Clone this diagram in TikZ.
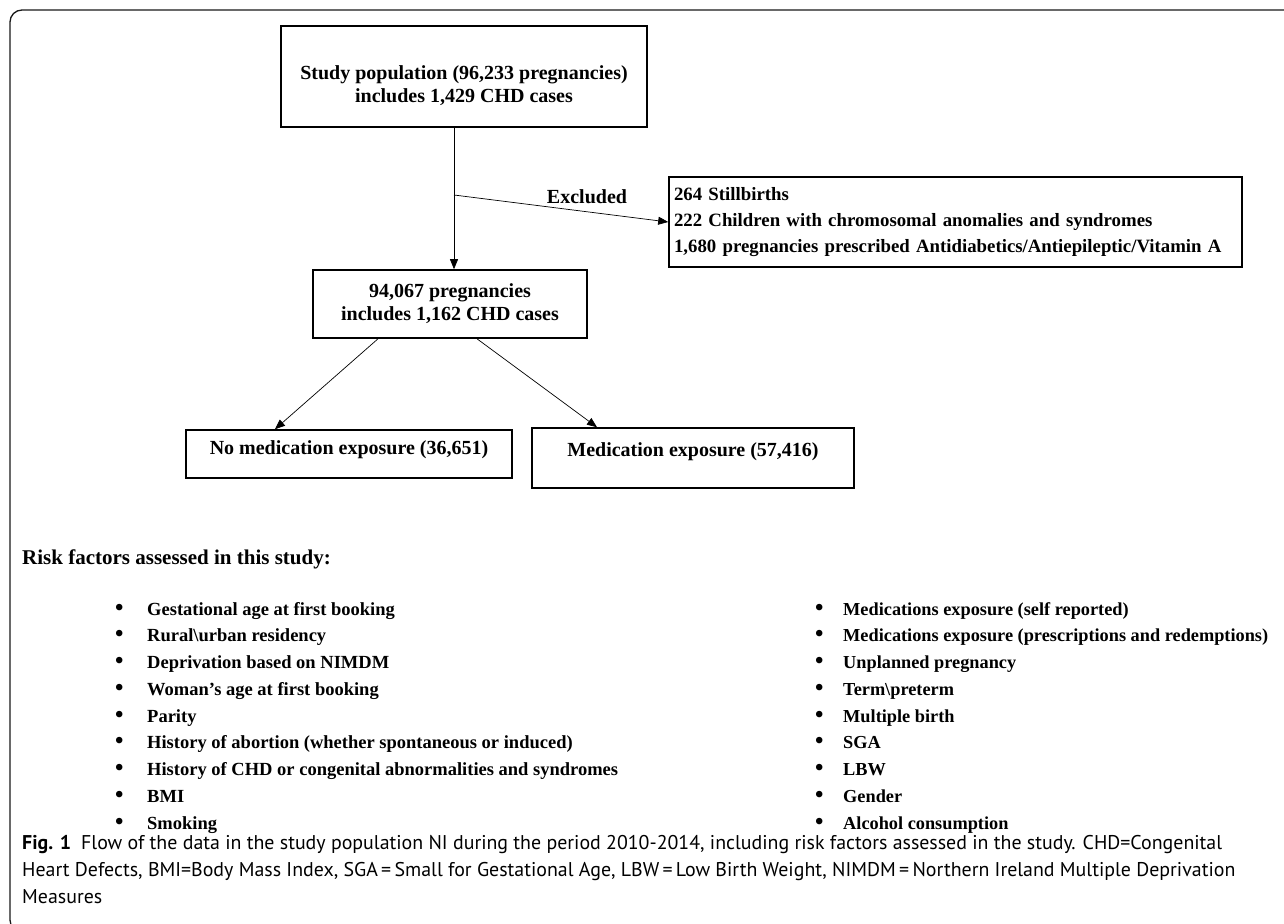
\documentclass[tikz,border=0pt]{standalone}
\usepackage{fontspec}
\setmainfont{Liberation Serif}
\newfontfamily\capfont{PT Sans}
\usetikzlibrary{arrows.meta}
\begin{document}
\begin{tikzpicture}[x=1pt,y=-1pt,
  box/.style={draw=black,line width=1.6pt,inner sep=0pt,align=center,
    font=\fontsize{20}{23}\selectfont\bfseries},
  arr/.style={-{Triangle[length=10pt,width=8pt]},line width=0.7pt},
  bul/.style={anchor=base west,inner sep=0pt,font=\fontsize{24}{24}\selectfont\bfseries},
  item/.style={anchor=base west,inner sep=0pt,font=\fontsize{18.5}{22}\selectfont\bfseries},
  captext/.style={anchor=base west,inner sep=0pt,
    font=\capfont\fontsize{19.9}{27}\selectfont}]
\useasboundingbox (0,0) rectangle (1284,923);
\fill[white] (0,0) rectangle (1284,923);
\draw[line width=1.3pt,draw=black!90,rounded corners=12pt] (1300,10) -- (10,10) -- (10,932) -- (1300,932);

\node[box,minimum width=366pt,minimum height=101pt] (top) at (464,76.5)
  {\rule{0pt}{33pt}Study population (96,233 pregnancies)\\includes 1,429 CHD cases};
\node[box,minimum width=274pt,minimum height=68pt] (mid) at (450,304)
  {94,067 pregnancies\\includes 1,162 CHD cases};
\node[box,minimum width=573pt,minimum height=90pt,text width=563pt,inner xsep=5pt,align=left,
  font=\fontsize{18.8}{26}\selectfont\bfseries] (excl) at (955.5,222)
  {264 Stillbirths\\222 Children with chromosomal anomalies and syndromes\\1,680 pregnancies prescribed Antidiabetics/Antiepileptic/Vitamin A};
\node[box,minimum width=326pt,minimum height=48pt,text depth=12pt] (nomed) at (349,454)
  {No medication exposure (36,651)};
\node[box,minimum width=322pt,minimum height=60pt,text depth=17pt] (med) at (693,458)
  {Medication exposure (57,416)};

\coordinate (vtop) at ([xshift=-10pt]top.south);
\coordinate (split) at (454,195);
\draw[arr] (vtop) -- (vtop |- mid.north);
\draw[arr] (split) -- (excl.west);
\node[inner sep=0pt,font=\fontsize{20}{23}\selectfont\bfseries] (exlab) at (587,197) {Excluded};
\draw[arr] ([xshift=-72pt]mid.south) -- ([xshift=-74pt]nomed.north);
\draw[arr] ([xshift=27pt]mid.south) -- ([xshift=-96pt]med.north);

\node[item,font=\fontsize{21}{23}\selectfont\bfseries] (head) at (22,564) {Risk factors assessed in this study:};
\foreach \t [count=\i from 0] in {Gestational age at first booking,Rural\textbackslash urban residency,Deprivation based on NIMDM,Woman’s age at first booking,Parity,History of abortion (whether spontaneous or induced),History of CHD or congenital abnormalities and syndromes,BMI,Smoking}{
  \node[bul] (lb\i) at (115,615+26.75*\i) {•};
  \node[item] (lt\i) at (147,615+26.75*\i) {\t};
}
\foreach \t [count=\i from 0] in {Medications exposure (self reported),Medications exposure (prescriptions and redemptions),Unplanned pregnancy,Term\textbackslash preterm,Multiple birth,SGA,LBW,Gender,Alcohol consumption}{
  \node[bul] (rb\i) at (815,615+26.75*\i) {•};
  \node[item,font=\fontsize{18.3}{22}\selectfont\bfseries] (rt\i) at (843,615+26.75*\i) {\t};
}
\node[captext] (cap1) at (22,849) {{\bfseries Fig. 1}\enspace Flow of the data in the study population NI during the period 2010-2014, including risk factors assessed in the study. CHD=Congenital};
\node[captext] (cap2) at (22,876) {Heart Defects, BMI=Body Mass Index, SGA\,=\,Small for Gestational Age, LBW\,=\,Low Birth Weight, NIMDM\,=\,Northern Ireland Multiple Deprivation};
\node[captext] (cap3) at (22,903) {Measures};
\end{tikzpicture}
\end{document}
